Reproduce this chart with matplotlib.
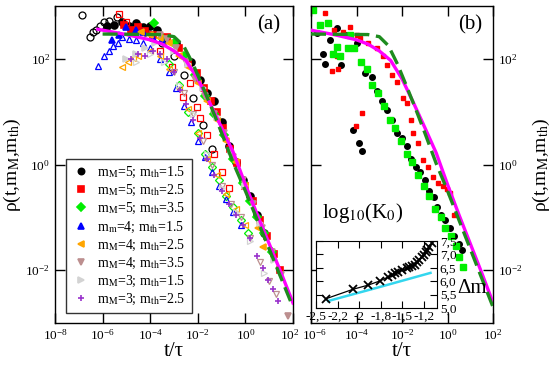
import numpy as np
import matplotlib
matplotlib.use('Agg')
import matplotlib.pyplot as plt
import matplotlib.transforms as mtransforms

plt.rcParams['font.family'] = ['Liberation Serif', 'DejaVu Serif']
plt.rcParams['mathtext.fontset'] = 'stix'

# ---- data (log10 values) ----
# fitted curves, same in both panels
mag_t = [-6.2, -5.0, -4.0, -3.5, -3.0, -2.5, -2.0, -1.5, -1.0, -0.5, 0.0, 0.5, 1.0, 1.5, 2.0]
mag_r = [2.56, 2.46, 2.36, 2.28, 2.15, 1.97, 1.62, 1.17, 0.70, 0.22, -0.38, -0.95, -1.50, -2.05, -2.62]
dash_t = [-6.0, -3.5, -3.0, -2.6, -2.2, -1.8, -1.4, -1.0, -0.5, 0.0, 0.5, 1.0, 1.5, 2.0]
dash_r = [2.47, 2.46, 2.42, 2.25, 1.90, 1.48, 1.05, 0.60, 0.02, -0.50, -1.05, -1.60, -2.15, -2.70]

# panel (a) series: filled points and open points
s1_t = [-5.8, -5.5, -5.2, -4.9, -4.6, -4.3, -4.0, -3.7, -2.9, -2.3, -1.9, -1.6, -1.3, -1.0, -0.7, -0.4, -0.1, 0.2, 0.5, 0.8]
s1_r = [2.62, 2.65, 2.70, 2.63, 2.68, 2.60, 2.62, 2.55, 2.30, 1.95, 1.60, 1.35, 1.20, 0.80, 0.35, 0.05, -0.30, -0.60, -0.95, -1.30]
s1o_t = [-6.87, -6.53, -6.4, -6.28, -6.1, -5.95, -5.75, -5.4, -4.2, -3.5, -3.0, -2.6, -2.2, -1.8, -1.4]
s1o_r = [2.83, 2.42, 2.50, 2.55, 2.62, 2.70, 2.72, 2.80, 2.50, 2.30, 2.05, 1.70, 1.25, 0.75, 0.30]

s2_t = [-5.1, -4.8, -4.5, -4.2, -3.9, -3.3, -2.8, -2.4, -2.03, -1.75, -1.45, -1.2, -0.94, -0.65, -0.35, 0.0, 0.3, 0.6, 0.9, 1.2, 1.45]
s2_r = [2.65, 2.55, 2.60, 2.52, 2.45, 2.42, 2.20, 1.95, 1.73, 1.45, 1.20, 1.00, 0.70, 0.30, 0.02, -0.40, -0.70, -1.05, -1.35, -1.70, -1.99]
s2o_t = [-5.3, -5.0, -3.6, -3.1, -2.62, -2.33, -2.03, -1.9, -1.6, -1.3, -1.0, -0.7]
s2o_r = [2.85, 2.70, 2.15, 1.85, 1.28, 1.55, 1.08, 0.89, 0.55, 0.20, -0.15, -0.45]

s3_t = [-3.84, -3.5, -3.0, -2.6, -2.1, -1.7, -1.3, -0.9, -0.5, -0.1, 0.2, 0.5, 0.8, 1.1]
s3_r = [2.68, 2.40, 2.30, 2.05, 1.70, 1.30, 0.95, 0.55, 0.10, -0.35, -0.70, -1.00, -1.30, -1.65]
s3o_t = [-3.2, -2.8, -2.4, -2.0, -1.7, -1.4, -1.1, -0.8, -0.5, -0.2, 0.1]
s3o_r = [1.90, 1.50, 1.00, 0.60, 0.20, -0.05, -0.30, -0.60, -0.80, -1.05, -1.30]

s4_t = [-5.6, -5.3, -5.0, -4.6, -4.3, -3.9, -3.5]
s4_r = [2.35, 2.45, 2.60, 2.55, 2.50, 2.40, 2.35]
s4o_t = [-6.19, -5.95, -5.75, -5.55, -5.35, -5.18, -4.9, -4.6, -4.3, -4.0, -3.6, -3.2, -2.9, -2.6, -2.3, -2.0, -1.7, -1.4, -1.1, -0.8, -0.5, -0.2]
s4o_r = [1.87, 2.05, 2.15, 2.25, 2.30, 2.42, 2.38, 2.35, 2.30, 2.20, 2.00, 1.75, 1.45, 1.10, 0.80, 0.45, 0.15, -0.15, -0.40, -0.65, -0.90, -1.15]

s5_t = [-4.4, -4.0, -3.6, -3.2, -2.8, -2.4, -2.0, -1.6, -1.2, -0.8, -0.4, 0.0, 0.53, 0.74]
s5_r = [2.50, 2.45, 2.40, 2.30, 2.05, 1.85, 1.55, 1.20, 0.85, 0.45, 0.05, -0.40, -1.20, -1.57]
s5o_t = [-5.18, -4.95, -4.72, -4.5, -4.0, -3.6, -3.2, -2.8, -2.4, -2.0, -1.6, -1.2, -0.8, -0.4, 0.0]
s5o_r = [1.85, 1.95, 2.02, 2.05, 2.15, 2.05, 1.80, 1.45, 1.05, 0.60, 0.10, -0.20, -0.55, -0.85, -1.15]

s6_t = [-3.6, -3.3, -2.9, -2.5, -2.1, -1.7, -1.3, -0.9, -0.5, -0.1, 0.3, 0.7, 1.1, 1.5, 1.79]
s6_r = [2.45, 2.38, 2.20, 1.95, 1.62, 1.30, 0.95, 0.60, 0.15, -0.30, -0.75, -1.20, -1.65, -2.10, -2.87]
s6o_t = [-3.0, -2.6, -2.2, -1.8, -1.4, -1.0, -0.6, -0.2, 0.2, 0.6, 1.0, 1.3]
s6o_r = [1.75, 1.35, 0.95, 0.45, 0.00, -0.40, -0.75, -1.00, -1.40, -1.85, -2.20, -2.45]

s7_t = [-5.0, -4.6, -4.2, -3.8, -3.0, -2.4, -1.8, -1.2, -0.6, 0.0, 0.6, 1.2]
s7_r = [2.00, 2.10, 2.20, 2.30, 2.15, 1.90, 1.45, 0.90, 0.25, -0.40, -1.10, -1.80]
s7o_t = [-4.6, -4.0, -3.4, -2.8, -2.2, -1.6, -1.0, -0.4, 0.2, 0.8]
s7o_r = [1.95, 2.10, 1.95, 1.50, 0.95, 0.20, -0.45, -0.90, -1.45, -2.05]

s8_t = [-4.8, -4.5, -4.2, -3.9, -3.6, -3.3, -3.0, -2.75, -2.5, -2.2, -1.9, -1.6, -1.3, -1.0, -0.7, -0.4, -0.1, 0.2, 0.5, 0.75, 0.95, 1.15, 1.37]
s8_r = [2.00, 2.10, 2.05, 2.15, 2.10, 2.00, 1.75, 1.42, 1.15, 0.85, 0.50, 0.10, -0.20, -0.50, -0.75, -0.95, -1.15, -1.40, -1.74, -1.95, -2.19, -2.35, -2.58]

labels = [r'm$_\mathrm{M}$=5; m$_\mathrm{th}$=1.5', r'm$_\mathrm{M}$=5; m$_\mathrm{th}$=2.5',
          r'm$_\mathrm{M}$=5; m$_\mathrm{th}$=3.5', r'm$_\mathrm{m}$=4; m$_\mathrm{th}$=1.5',
          r'm$_\mathrm{M}$=4; m$_\mathrm{th}$=2.5', r'm$_\mathrm{M}$=4; m$_\mathrm{th}$=3.5',
          r'm$_\mathrm{M}$=3; m$_\mathrm{th}$=1.5', r'm$_\mathrm{M}$=3; m$_\mathrm{th}$=2.5']

# panel (b) series
b_blk_t = [-5.74, -5.47, -5.38, -5.16, -4.86, -4.7, -4.4, -4.15, -3.89, -3.76, -4.0, -3.63, -3.3, -3.1, -2.9, -2.66, -2.45, -2.22, -2.0, -1.78, -1.6, -1.4, -1.2, -1.0, -0.8, -0.6, -0.45, -0.3, -0.1, 0.1, 0.3, 0.5, 0.62]
b_blk_r = [2.49, 2.09, 1.91, 2.36, 2.58, 1.89, 2.45, 0.66, 0.40, 0.25, 2.30, 1.74, 1.66, 1.40, 1.20, 1.04, 0.85, 0.60, 0.50, 0.35, 0.10, -0.05, -0.15, -0.30, -0.50, -0.62, -0.80, -0.95, -1.05, -1.20, -1.35, -1.50, -1.62]
b_grn_t = [-5.91, -5.6, -5.25, -4.86, -4.37, -4.29, -5.03, -4.73, -4.1, -3.8, -3.55, -3.3, -3.05, -2.8, -2.55, -2.3, -2.05, -1.8, -1.55, -1.3, -1.05, -0.8, -0.55, -0.3, -0.1, 0.15, 0.35, 0.5, 0.68]
b_grn_r = [2.92, 2.64, 2.68, 2.23, 2.21, 2.45, 2.09, 2.05, 2.20, 1.95, 1.80, 1.50, 1.35, 1.10, 0.85, 0.70, 0.45, 0.20, 0.05, -0.20, -0.40, -0.60, -0.85, -1.00, -1.20, -1.35, -1.55, -1.75, -1.94]
b_red_t = [-5.38, -5.08, -4.8, -4.86, -4.02, -3.76, -5.0, -4.6, -4.3, -4.0, -3.85, -3.5, -3.1, -2.85, -2.66, -2.45, -2.22, -1.96, -1.78, -1.6, -1.5, -1.3, -1.08, -0.85, -0.64, -0.4, -0.2, -0.02, 0.11, 0.3]
b_red_r = [2.87, 1.77, 1.80, 2.06, 0.72, 0.98, 2.55, 2.50, 2.60, 2.45, 2.40, 2.30, 2.20, 2.05, 1.89, 1.70, 1.57, 1.26, 1.17, 0.85, 0.60, 0.40, 0.09, -0.05, -0.23, -0.35, -0.40, -0.47, -0.53, -0.95]

# inset
dm = [-2.38, -2.07, -1.90, -1.76, -1.67, -1.62, -1.58, -1.55, -1.51, -1.45, -1.42, -1.39, -1.36, -1.33, -1.31, -1.27, -1.25, -1.23, -1.21, -1.19, -1.16]
logk = [5.35, 5.70, 5.85, 6.01, 6.15, 6.22, 6.30, 6.35, 6.41, 6.48, 6.52, 6.57, 6.60, 6.70, 6.79, 6.90, 6.98, 7.09, 7.18, 7.27, 7.42]
cyan_dm = [-2.36, -1.80, -1.175]
cyan_k = [5.26, 5.75, 6.31]

# ---- figure ----
fig = plt.figure(figsize=(5.5, 3.66), dpi=100)
ax1 = fig.add_axes([0.1, 0.1175, 0.4327, 0.866])
ax2 = fig.add_axes([0.5655, 0.1175, 0.331, 0.866])

def p(v):
    return 10 ** np.array(v)

styles = [('o', 'black'), ('s', 'red'), ('D', '#00ee00'), ('^', 'blue'),
          ('<', 'orange'), ('v', '#bc8f8f'), ('>', '#d3d3d3'), ('+', '#9932cc')]
filled = [(s1_t, s1_r), (s2_t, s2_r), (s3_t, s3_r), (s4_t, s4_r),
          (s5_t, s5_r), (s6_t, s6_r), (s7_t, s7_r), (s8_t, s8_r)]
opened = [(s1o_t, s1o_r), (s2o_t, s2o_r), (s3o_t, s3o_r), (s4o_t, s4o_r),
          (s5o_t, s5o_r), (s6o_t, s6o_r), (s7o_t, s7o_r), None]

for (mk, c), (t, r), o, lab in zip(styles, filled, opened, labels):
    ms = 5 if mk != 'D' else 4.5
    if o is not None:
        ax1.plot(p(o[0]), p(o[1]), ls='none', marker=mk, ms=ms, mfc='none', mec=c, mew=0.9)
    ax1.plot(p(t), p(r), ls='none', marker=mk, ms=ms, color=c, mew=1.2, label=lab)

for ax in (ax1, ax2):
    ax.plot(p(mag_t), p(mag_r), color='#ff00ff', lw=2.4, zorder=5)
    ax.plot(p(dash_t), p(dash_r), color='#1e8c1e', lw=2.4, dashes=(4.5, 2), zorder=6)

ax2.plot(p(b_blk_t), p(b_blk_r), ls='none', marker='o', ms=4, color='black')
ax2.plot(p(b_red_t), p(b_red_r), ls='none', marker='s', ms=3.5, color='red')
ax2.plot(p(b_grn_t), p(b_grn_r), ls='none', marker='s', ms=3.8, color='#00ee00')

for ax in (ax1, ax2):
    ax.set_xscale('log')
    ax.set_yscale('log')
    ax.set_ylim(1e-3, 1e3)
    ax.set_yticks([1e-2, 1, 1e2])
    ax.tick_params(which='both', direction='in', top=True, right=True, length=7, width=1, labelsize=9.5)
    ax.set_xlabel('t/τ', fontsize=15, labelpad=0)
    for s in ax.spines.values():
        s.set_linewidth(1)

ax1.set_xlim(1e-8, 1e2)
ax1.set_xticks([1e-8, 1e-6, 1e-4, 1e-2, 1, 1e2])
ax2.set_xlim(1e-6, 1e2)
ax2.set_xticks([1e-6, 1e-4, 1e-2, 1, 1e2])
ax1.minorticks_off()
ax2.minorticks_off()

# the two tick labels at the panel join touch in the original; nudge them apart a little
fig.canvas.draw()
shift_l = mtransforms.ScaledTranslation(-3 / 100, 0, fig.dpi_scale_trans)
shift_r = mtransforms.ScaledTranslation(3 / 100, 0, fig.dpi_scale_trans)
lab_l = ax1.get_xticklabels()[-1]
lab_l.set_transform(lab_l.get_transform() + shift_l)
lab_r = ax2.get_xticklabels()[0]
lab_r.set_transform(lab_r.get_transform() + shift_r)

ylab = r'ρ(t,m$_\mathrm{M}$,m$_\mathrm{th}$)'
ax1.set_ylabel(ylab, fontsize=14, labelpad=2)
ax2.tick_params(labelleft=False, labelright=True)
ax2.yaxis.set_label_position('right')
ax2.set_ylabel(ylab, fontsize=14, labelpad=6)

ax1.text(0.90, 0.94, '(a)', transform=ax1.transAxes, fontsize=15, ha='center', va='center')
ax2.text(0.875, 0.94, '(b)', transform=ax2.transAxes, fontsize=15, ha='center', va='center')

leg = ax1.legend(loc='lower left', bbox_to_anchor=(0.046, 0.03), borderaxespad=0,
                 fontsize=10, frameon=True, fancybox=False, edgecolor='black',
                 handlelength=1.2, handletextpad=0.6, labelspacing=0.22, borderpad=0.45,
                 markerscale=0.9)
leg.get_frame().set_linewidth(1)

# inset
axi = fig.add_axes([0.5745, 0.1585, 0.22, 0.183])
axi.plot(cyan_dm, cyan_k, color='#33d6ee', lw=1.8)
axi.plot(dm, logk, color='black', lw=0.9, marker='x', ms=6, mew=1.3)
axi.set_xlim(-2.5, -1.1)
axi.set_ylim(5.0, 7.5)
axi.set_xticks([-2.5, -2.25, -2.0, -1.75, -1.5, -1.25])
axi.set_xticklabels(['-2,5', '-2,2', '-2', '-1,8', '-1,5', '-1,2'])
axi.set_yticks([5.0, 5.5, 6.0, 6.5, 7.0, 7.5])
axi.set_yticklabels(['5,0', '5,5', '6,0', '6,5', '7,0', '7,5'])
axi.tick_params(direction='in', top=True, right=True, left=True, labelleft=False,
                labelright=True, length=5, labelsize=9.5, pad=2)
fig.text(0.66, 0.418, r'log$_{10}$(K$_0$)', fontsize=15, ha='center', va='center')
fig.text(0.858, 0.213, 'Δm', fontsize=15, ha='center', va='center')

plt.savefig('out.png', dpi=100)
